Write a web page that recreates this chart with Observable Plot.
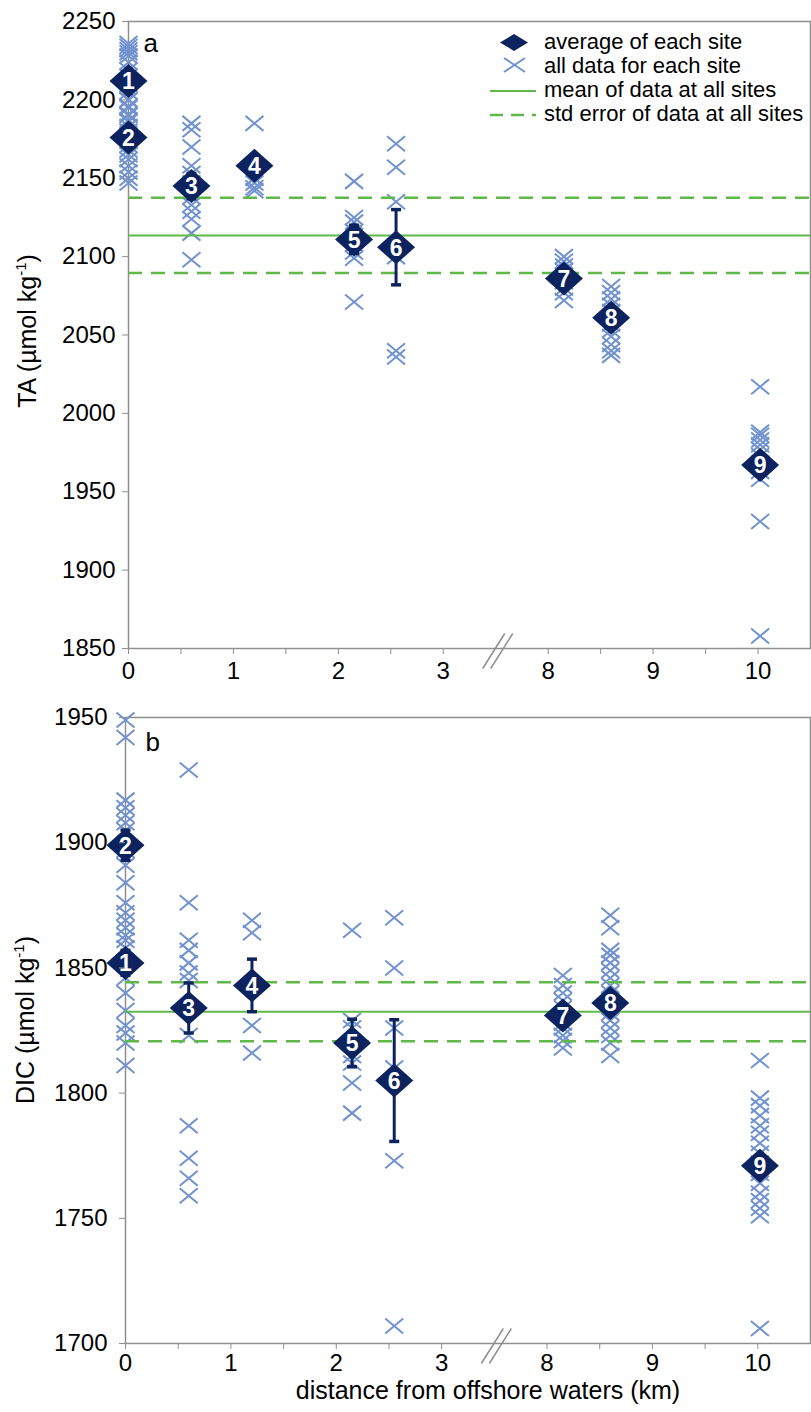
<!DOCTYPE html>
<html><head><meta charset="utf-8">
<script src="https://cdn.jsdelivr.net/npm/d3@7"></script>
<script src="https://cdn.jsdelivr.net/npm/@observablehq/plot@0.6"></script>
<style>
body{margin:0;background:#fff;}
#wrap{width:811px;height:1412px;position:relative;overflow:hidden;background:#fff;}
svg{display:block;}
</style></head><body><div id="wrap"></div>
<script>
// ---------- data ----------
const sites = [1, 2, 3, 4, 5, 6, 7, 8, 9];
const siteKm = [0, 0, 0.6, 1.2, 2.15, 2.55, 8.15, 8.6, 10.02];

const taAvg = [2212, 2176, 2145, 2158, 2111, 2106, 2086, 2061, 1967];
const taErr = [4, 5, 8, 6, 9, 24, 3, 4, 6];
const taMean = 2113.5;
const taSE = 24;
const taSite1 = [2236, 2234, 2232, 2230, 2228, 2224, 2219, 2215, 2210, 2205, 2200, 2196, 2191, 2187];
const taSite2 = [2200, 2195, 2190, 2186, 2183, 2180, 2177, 2174, 2171, 2168, 2165, 2162, 2158, 2154, 2150, 2147];
const taSite3 = [2185, 2181, 2170, 2158, 2153, 2147, 2138, 2133, 2129, 2124, 2115, 2098];
const taSite4 = [2185, 2150, 2147, 2144, 2142];
const taSite5 = [2148, 2125, 2122, 2116, 2108, 2103, 2099, 2071];
const taSite6 = [2172, 2157, 2135, 2100, 2040, 2036];
const taSite7 = [2100, 2097, 2094, 2091, 2088, 2084, 2080, 2077, 2072];
const taSite8 = [2081, 2077, 2073, 2069, 2065, 2061, 2057, 2053, 2049, 2044, 2040, 2037];
const taSite9 = [2017, 1988, 1986, 1983, 1980, 1977, 1973, 1968, 1963, 1958, 1931, 1858];

const dicAvg = [1852, 1899, 1834, 1843, 1820, 1805, 1831, 1836, 1771];
const dicErr = [5, 6, 10, 10.5, 9.5, 24.3, 4, 4, 4];
const dicMean = 1832.5;
const dicSE = 11.8;
const dicSite1 = [1876, 1872, 1869, 1866, 1863, 1861, 1858, 1852, 1846, 1840, 1833, 1827, 1824, 1820, 1811];
const dicSite2 = [1949, 1942, 1917, 1914, 1911, 1908, 1905, 1897, 1891, 1884];
const dicSite3 = [1929, 1876, 1861, 1857, 1852, 1848, 1845, 1823, 1787, 1774, 1766, 1759];
const dicSite4 = [1869, 1864, 1843, 1827, 1816];
const dicSite5 = [1865, 1829, 1826, 1820, 1815, 1812, 1804, 1792];
const dicSite6 = [1870, 1850, 1826, 1810, 1773, 1707];
const dicSite7 = [1847, 1843, 1840, 1837, 1834, 1831, 1828, 1826, 1823, 1821, 1818];
const dicSite8 = [1871, 1866, 1857, 1855, 1852, 1849, 1846, 1843, 1840, 1837, 1835, 1832, 1829, 1826, 1823, 1820, 1815];
const dicSite9 = [1813, 1798, 1795, 1791, 1787, 1784, 1780, 1776, 1772, 1768, 1764, 1760, 1757, 1754, 1751, 1706];

const xTickKm = [0, 0.5, 1, 1.5, 2, 2.5, 3, 8, 8.5, 9, 9.5, 10];
const xTickLabels = ["0", "", "1", "", "2", "", "3", "8", "", "9", "", "10"];
const taTicks = [1850, 1900, 1950, 2000, 2050, 2100, 2150, 2200, 2250];
const dicTicks = [1700, 1750, 1800, 1850, 1900, 1950];
const legendLabels = ["average of each site", "all data for each site", "mean of data at all sites", "std error of data at all sites"];

// ---------- styling ----------
const FONT = '"Liberation Sans", Arial, Helvetica, sans-serif';
const NAVY = "#0c2360", XBLUE = "#7092d0", GREEN = "#5fb848", GRAY = "#8f8f8f";
const brk = v => (v <= 3.5 ? v : v - 4); // broken axis: 3.5..7.5 km removed

const diamond = {draw(c){c.moveTo(0,-17);c.lineTo(19,0);c.lineTo(0,17);c.lineTo(-19,0);c.closePath();}};
const cross = {draw(c){c.moveTo(-9,-7.5);c.lineTo(9,7.5);c.moveTo(-9,7.5);c.lineTo(9,-7.5);}};
const cap = {draw(c){c.moveTo(-5,0);c.lineTo(5,0);}};
const slash = {draw(c){c.moveTo(-13,20);c.lineTo(9,-15);c.moveTo(-5,20);c.lineTo(17,-15);}};

const tickLabelMap = new Map(xTickKm.map((k, i) => [brk(k), xTickLabels[i]]));

function panel(o) {
  const rows = sites.map((s, i) => ({site: s, km: siteKm[i], avg: o.avg[i], err: o.err[i]}));
  const pts = o.data.flatMap((vals, i) => vals.map(v => ({site: sites[i], km: siteKm[i], v})));
  const X = d => brk(d.km);
  return Plot.plot({
    width: 811, height: o.height,
    marginTop: o.marginTop, marginBottom: o.marginBottom, marginLeft: o.marginLeft, marginRight: 1,
    style: {fontFamily: FONT, fontSize: "24px", background: "#fff", color: "#000", overflow: "visible"},
    x: {domain: [0, 6.5]},
    y: {domain: o.yDomain},
    marks: [
      Plot.frame({stroke: GRAY, strokeWidth: 1.5}),
      Plot.dot(pts, {x: X, y: "v", symbol: cross, r: 5, fill: "none", stroke: XBLUE, strokeWidth: 2}),
      Plot.ruleY([o.mean], {stroke: GREEN, strokeWidth: 2}),
      Plot.ruleY([o.mean - o.se, o.mean + o.se], {stroke: GREEN, strokeWidth: 2.5, strokeDasharray: "14,9"}),
      Plot.ruleX(rows, {x: X, y1: d => d.avg - d.err, y2: d => d.avg + d.err, stroke: NAVY, strokeWidth: 3}),
      Plot.dot(rows, {x: X, y: d => d.avg - d.err, symbol: cap, r: 5, fill: "none", stroke: NAVY, strokeWidth: 3.5}),
      Plot.dot(rows, {x: X, y: d => d.avg + d.err, symbol: cap, r: 5, fill: "none", stroke: NAVY, strokeWidth: 3.5}),
      Plot.dot(rows, {x: X, y: "avg", symbol: diamond, r: 5, fill: NAVY, stroke: "none"}),
      Plot.text(rows, {x: X, y: "avg", text: d => String(d.site), fill: "#fff", fontWeight: "bold", fontSize: 23, dy: 1}),
      Plot.axisX({ticks: xTickKm.map(brk), tickSize: 6, tickPadding: o.xTickPadding, stroke: GRAY, fill: "#000",
        tickFormat: t => tickLabelMap.get(t) ?? "", label: null}),
      Plot.axisY({ticks: o.yTicks, tickSize: 6, tickPadding: o.yTickPadding, stroke: GRAY, fill: "#000",
        tickFormat: d => String(d), label: null}),
      Plot.dot([{km: 3.5}], {x: X, y: () => o.yDomain[0], symbol: slash, r: 5, fill: "none", stroke: GRAY, strokeWidth: 1.5}),
      Plot.text([o.letter], {frameAnchor: "top-left", text: d => d, dx: o.letterDx, dy: o.letterDy, fontSize: 26, fill: "#000"})
    ]
  });
}

function yTitle(svg, x, y, main) {
  const t = d3.select(svg).append("text")
    .attr("transform", `translate(${x},${y}) rotate(-90)`)
    .attr("text-anchor", "middle")
    .style("font-family", FONT).style("font-size", "25px").attr("fill", "#000");
  t.append("tspan").text(main + " (\u00b5mol kg");
  t.append("tspan").attr("dy", -10).style("font-size", "15px").text("-1");
  t.append("tspan").attr("dy", 10).text(")");
}

const wrap = document.getElementById("wrap");

const topSvg = panel({
  avg: taAvg, err: taErr, mean: taMean, se: taSE,
  data: [taSite1, taSite2, taSite3, taSite4, taSite5, taSite6, taSite7, taSite8, taSite9],
  yDomain: [1850, 2250], yTicks: taTicks, height: 700,
  marginTop: 21, marginBottom: 52, marginLeft: 128, yTickPadding: 7, xTickPadding: 7,
  letter: "a", letterDx: 15, letterDy: 12
});
wrap.appendChild(topSvg);
yTitle(topSvg, 36, 331, "TA");

// legend (top panel)
{
  const g = d3.select(topSvg).append("g").style("font-family", FONT).style("font-size", "22px");
  g.append("path").attr("d", "M500,42.5L514,34L528,42.5L514,51Z").attr("fill", NAVY);
  g.append("path").attr("d", "M504,58L525,72M504,72L525,58").attr("stroke", XBLUE).attr("stroke-width", 2).attr("fill", "none");
  g.append("line").attr("x1", 490).attr("x2", 536).attr("y1", 91).attr("y2", 91).attr("stroke", GREEN).attr("stroke-width", 2);
  g.append("line").attr("x1", 490).attr("x2", 536).attr("y1", 115).attr("y2", 115).attr("stroke", GREEN).attr("stroke-width", 2.5).attr("stroke-dasharray", "13,8");
  const ys = [49, 72.5, 97, 121];
  legendLabels.forEach((s, i) => g.append("text").attr("x", 544).attr("y", ys[i])
    .attr("text-anchor", "start").attr("fill", "#000").text(s));
}

const botSvg = panel({
  avg: dicAvg, err: dicErr, mean: dicMean, se: dicSE,
  data: [dicSite1, dicSite2, dicSite3, dicSite4, dicSite5, dicSite6, dicSite7, dicSite8, dicSite9],
  yDomain: [1700, 1950], yTicks: dicTicks, height: 712,
  marginTop: 17, marginBottom: 69, marginLeft: 125, yTickPadding: 12, xTickPadding: 4,
  letter: "b", letterDx: 20, letterDy: 15
});
wrap.appendChild(botSvg);
yTitle(botSvg, 34, 320, "DIC");
d3.select(botSvg).append("text").attr("x", 488).attr("y", 699).attr("text-anchor", "middle")
  .style("font-family", FONT).style("font-size", "25px").attr("fill", "#000")
  .text("distance from offshore waters (km)");
</script>
</body></html>
